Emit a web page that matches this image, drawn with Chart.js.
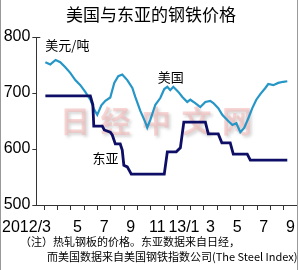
<!DOCTYPE html>
<html>
<head>
<meta charset="utf-8">
<script src="https://cdn.jsdelivr.net/npm/chart.js@4/dist/chart.umd.min.js"></script>
<style>
  html, body { margin: 0; padding: 0; background: #fff; }
  #wrap { position: relative; width: 300px; height: 270px; }
</style>
</head>
<body>
<div id="wrap"><canvas id="steelChart" width="300" height="270"></canvas></div>
<script>
// x values are months counted from 2012/3/1 (0 = start of March 2012)
const monthLabels = ['2012/3', '5', '7', '9', '11', '13/1', '3', '5', '7', '9'];
const labelMonths = [0.5, 2.5, 4.5, 6.5, 8.5, 10.5, 12.5, 14.5, 16.5, 18.5];
const monthTicks = [0, 1, 2, 3, 4, 5, 6, 7, 8, 9, 10, 11, 12, 13, 14, 15, 16, 17, 18, 19];
const priceTicks = [500, 600, 700, 800];

// US (The Steel Index), USD per ton
const usMonths = [0.08, 0.45, 0.85, 1.2, 1.58, 1.95, 2.33, 2.71, 3.08, 3.46, 3.76, 3.98, 4.29, 4.59, 4.96,
  5.26, 5.56, 5.86, 6.24, 6.62, 6.84, 7.22, 7.59, 7.74, 7.97, 8.35, 8.72, 9.02, 9.25, 9.47, 9.7, 10.08,
  10.38, 10.75, 10.98, 11.35, 11.73, 12.11, 12.48, 12.71, 13.08, 13.38, 13.83, 14.14, 14.44, 14.74,
  15.04, 15.34, 15.64, 15.94, 16.24, 16.62, 16.84, 17.22, 17.59, 17.97, 18.27];
const usPrice = [755, 751, 759, 755, 746, 736, 723, 714, 702, 688, 670, 661, 678, 686, 692,
  718, 730, 733, 723, 709, 693, 668, 648, 638, 652, 679, 691, 707, 711, 705, 711, 702,
  693, 684, 688, 682, 675, 684, 686, 682, 673, 661, 650, 643, 646, 630,
  638, 655, 673, 688, 698, 709, 716, 714, 718, 720, 721];

// East Asia (Nikkei), USD per ton
const eaMonths = [0.08, 3.46, 3.65, 3.72, 4.36, 4.51, 4.96, 5.11, 5.34, 5.71, 5.86, 5.98, 6.24, 6.54,
  9.02, 9.25, 9.92, 10.23, 10.49, 12.11, 12.33, 13.08, 13.35, 13.98, 14.21, 15.26, 15.49, 18.27];
const eaPrice = [695, 695, 679, 641, 641, 634, 630, 625, 609, 609, 598, 571, 568, 555,
  555, 595, 595, 602, 648, 648, 627, 627, 611, 611, 591, 591, 580, 580];

const numFont = "'Liberation Sans Narrow', 'Liberation Sans', Arial, sans-serif";
const cjkFont = "'Noto Sans CJK SC', 'Noto Sans', sans-serif";

const decor = {
  id: 'decor',
  beforeDatasetsDraw(chart) {
    const ctx = chart.ctx;
    ctx.save();
    ctx.font = 'bold 30px ' + cjkFont;
    ctx.textAlign = 'center';
    ctx.textBaseline = 'middle';
    ctx.shadowColor = 'rgba(110,110,110,0.55)';
    ctx.shadowBlur = 3;
    ctx.shadowOffsetX = 2;
    ctx.shadowOffsetY = 2;
    ctx.fillStyle = 'rgba(245,175,175,0.5)';
    '日经中文网'.split('').forEach((c, i) => ctx.fillText(c, 75 + i * 40.5, 121));
    ctx.restore();
  },
  afterDraw(chart) {
    const ctx = chart.ctx;
    const x = chart.scales.x;
    const y = chart.scales.y;
    ctx.save();
    ctx.fillStyle = '#000';
    ctx.textBaseline = 'middle';

    ctx.textAlign = 'center';
    ctx.font = '17px ' + cjkFont;
    ctx.fillText('美国与东亚的钢铁价格', 151, 15);

    ctx.font = '13px ' + cjkFont;
    ctx.textAlign = 'left';
    ctx.fillText('美元/吨', x.getPixelForValue(0.08), y.getPixelForValue(786));
    ctx.textAlign = 'center';
    ctx.fillText('美国', x.getPixelForValue(9.5), y.getPixelForValue(729));
    ctx.fillText('东亚', x.getPixelForValue(4.6), y.getPixelForValue(584));

    ctx.font = '11px ' + cjkFont;
    ctx.textAlign = 'left';
    ctx.fillText('（注）热轧钢板的价格。东亚数据来自日经，', 20, 242);
    ctx.fillText('而美国数据来自美国钢铁指数公司(The Steel Index)', 47, 257);

    // short tick to the right at the top of the price axis
    ctx.strokeStyle = '#333';
    ctx.lineWidth = 1;
    ctx.beginPath();
    ctx.moveTo(chart.chartArea.left, y.getPixelForValue(800) + 0.5);
    ctx.lineTo(chart.chartArea.left + 4, y.getPixelForValue(800) + 0.5);
    ctx.stroke();

    ctx.strokeStyle = '#999';
    ctx.beginPath();
    ctx.moveTo(0.5, 0); ctx.lineTo(0.5, 270);
    ctx.moveTo(297.5, 0); ctx.lineTo(297.5, 270);
    ctx.stroke();
    ctx.restore();
  }
};

new Chart(document.getElementById('steelChart'), {
  type: 'line',
  data: {
    datasets: [{
      label: '东亚',
      data: eaMonths.map((m, i) => ({ x: m, y: eaPrice[i] })),
      borderColor: '#0e0e66',
      borderWidth: 2.8,
      pointRadius: 0,
      tension: 0,
      order: 0
    }, {
      label: '美国',
      data: usMonths.map((m, i) => ({ x: m, y: usPrice[i] })),
      borderColor: '#2596c6',
      borderWidth: 2.2,
      pointRadius: 0,
      tension: 0,
      order: 1
    }]
  },
  options: {
    responsive: false,
    animation: false,
    devicePixelRatio: 1,
    layout: { padding: { top: 37, left: 0, right: 3, bottom: 0 } },
    plugins: { legend: { display: false }, tooltip: { enabled: false }, title: { display: false } },
    scales: {
      x: {
        type: 'linear',
        position: 'bottom',
        min: -0.6,
        max: 19,
        afterBuildTicks: scale => { scale.ticks = monthTicks.map(v => ({ value: v })); },
        afterFit: scale => { scale.height = 5; },
        ticks: { display: false },
        grid: { drawOnChartArea: false, tickLength: 5, color: '#333' },
        border: { color: '#333', width: 1 }
      },
      xLabels: {
        type: 'linear',
        position: 'bottom',
        min: -0.6,
        max: 19,
        afterBuildTicks: scale => { scale.ticks = labelMonths.map(v => ({ value: v })); },
        afterFit: scale => { scale.height = 60; },
        ticks: {
          autoSkip: false,
          maxRotation: 0,
          padding: 0,
          color: '#000',
          font: { family: numFont, size: 16 },
          callback: (v, i) => i === 0 ? monthLabels[i] + '           ' : monthLabels[i]
        },
        grid: { display: false },
        border: { display: false }
      },
      y: {
        min: 500,
        max: 800,
        afterBuildTicks: scale => { scale.ticks = priceTicks.map(v => ({ value: v })); },
        afterFit: scale => { scale.width = 36; },
        ticks: { color: '#000', padding: 2, font: { family: numFont, size: 16 } },
        grid: { drawOnChartArea: false, tickLength: 4, color: '#333' },
        border: { color: '#333', width: 1 }
      }
    }
  },
  plugins: [decor]
});
</script>
</body>
</html>
